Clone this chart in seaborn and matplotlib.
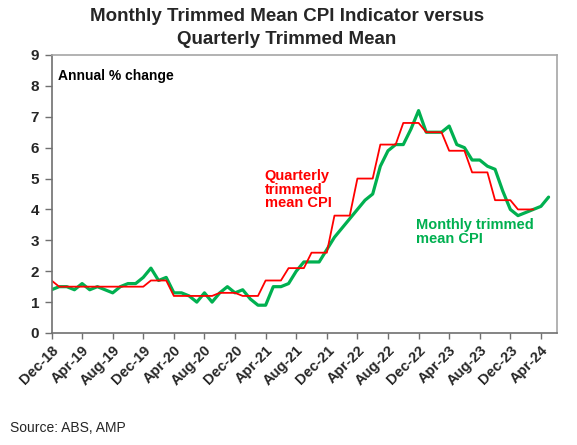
import numpy as np
import pandas as pd
import matplotlib
matplotlib.use("Agg")
import matplotlib.pyplot as plt
import seaborn as sns

# ---- data (annual % change) ----
month_labels = ["Dec-18", "Apr-19", "Aug-19", "Dec-19", "Apr-20", "Aug-20", "Dec-20",
                "Apr-21", "Aug-21", "Dec-21", "Apr-22", "Aug-22", "Dec-22", "Apr-23",
                "Aug-23", "Dec-23", "Apr-24"]

# Monthly trimmed mean CPI indicator, Dec-18 .. May-24
monthly_tm = [1.4, 1.5, 1.5, 1.4, 1.6, 1.4, 1.5, 1.4, 1.3, 1.5, 1.6, 1.6,
              1.8, 2.1, 1.7, 1.8, 1.3, 1.3, 1.2, 1.0, 1.3, 1.0, 1.3, 1.5,
              1.3, 1.4, 1.1, 0.9, 0.9, 1.5, 1.5, 1.6, 2.0, 2.3, 2.3, 2.3,
              2.7, 3.1, 3.4, 3.7, 4.0, 4.3, 4.5, 5.4, 5.9, 6.1, 6.1, 6.6,
              7.2, 6.5, 6.5, 6.5, 6.7, 6.1, 6.0, 5.6, 5.6, 5.4, 5.3, 4.6,
              4.0, 3.8, 3.9, 4.0, 4.1, 4.4]

# Quarterly trimmed mean CPI shown at monthly frequency, Dec-18 .. Mar-24
quarterly_tm = [1.7, 1.5, 1.5, 1.5, 1.5, 1.5, 1.5, 1.5, 1.5, 1.5, 1.5, 1.5,
                1.5, 1.7, 1.7, 1.7, 1.2, 1.2, 1.2, 1.2, 1.2, 1.2, 1.3, 1.3,
                1.3, 1.2, 1.2, 1.2, 1.7, 1.7, 1.7, 2.1, 2.1, 2.1, 2.6, 2.6,
                2.6, 3.8, 3.8, 3.8, 5.0, 5.0, 5.0, 6.1, 6.1, 6.1, 6.8, 6.8,
                6.8, 6.5, 6.5, 6.5, 5.9, 5.9, 5.9, 5.2, 5.2, 5.2, 4.3, 4.3,
                4.3, 4.0, 4.0, 4.0]

df_m = pd.DataFrame({"month": np.arange(len(monthly_tm)), "value": monthly_tm})
df_q = pd.DataFrame({"month": np.arange(len(quarterly_tm)), "value": quarterly_tm})

sns.set_theme(style="white")
plt.rcParams["font.family"] = ["Liberation Sans", "DejaVu Sans"]

GREEN = "#00B050"
RED = "#FF0000"

fig = plt.figure(figsize=(5.77, 4.45), dpi=100)
ax = fig.add_axes([51.5 / 577, 1 - 333 / 445, (557 - 51.5) / 577, (333 - 55) / 445])

sns.lineplot(data=df_m, x="month", y="value", ax=ax, color=GREEN, linewidth=2.3)
sns.lineplot(data=df_q, x="month", y="value", ax=ax, color=RED, linewidth=1.3)

ax.set_xlim(0, 66.1)
ax.set_ylim(0, 9)
ax.set_yticks(range(0, 10))
ax.set_yticklabels([str(i) for i in range(0, 10)], fontsize=11, fontweight="bold")
ax.set_xticks(np.arange(0, 4 * len(month_labels), 4))
ax.set_xticklabels(month_labels, rotation=45, ha="right", rotation_mode="anchor",
                   fontsize=10.5, fontweight="bold")
ax.set_xlabel("")
ax.set_ylabel("")

ax.tick_params(axis="x", direction="out", length=4, width=1, color="#707070", pad=3)
ax.tick_params(axis="y", direction="out", length=5, width=1, color="#707070", pad=4)
ax.xaxis.set_ticks_position("bottom")
ax.yaxis.set_ticks_position("left")

for side in ["left", "bottom"]:
    ax.spines[side].set_color("#707070")
    ax.spines[side].set_linewidth(1.2)
for side in ["top", "right"]:
    ax.spines[side].set_color("#A6A6A6")
    ax.spines[side].set_linewidth(1.2)

ax.text(0.85, 8.55, "Annual % change", fontsize=10, fontweight="bold",
        color="black", va="top", ha="left")
ax.text(27.9, 5.3, "Quarterly\ntrimmed\nmean CPI", fontsize=10.5, fontweight="bold",
        color=RED, va="top", ha="left", linespacing=0.95)
ax.text(47.6, 3.72, "Monthly trimmed\nmean CPI", fontsize=10.5, fontweight="bold",
        color=GREEN, va="top", ha="left", linespacing=0.95)

fig.text(0.497, 1 - 8 / 445, "Monthly Trimmed Mean CPI Indicator versus\nQuarterly Trimmed Mean",
         ha="center", va="top", fontsize=13.5, fontweight="bold",
         linespacing=1.45)
fig.text(10 / 577, 1 - 428 / 445, "Source: ABS, AMP", ha="left", va="center", fontsize=10)

fig.savefig("out.png", dpi=100)
